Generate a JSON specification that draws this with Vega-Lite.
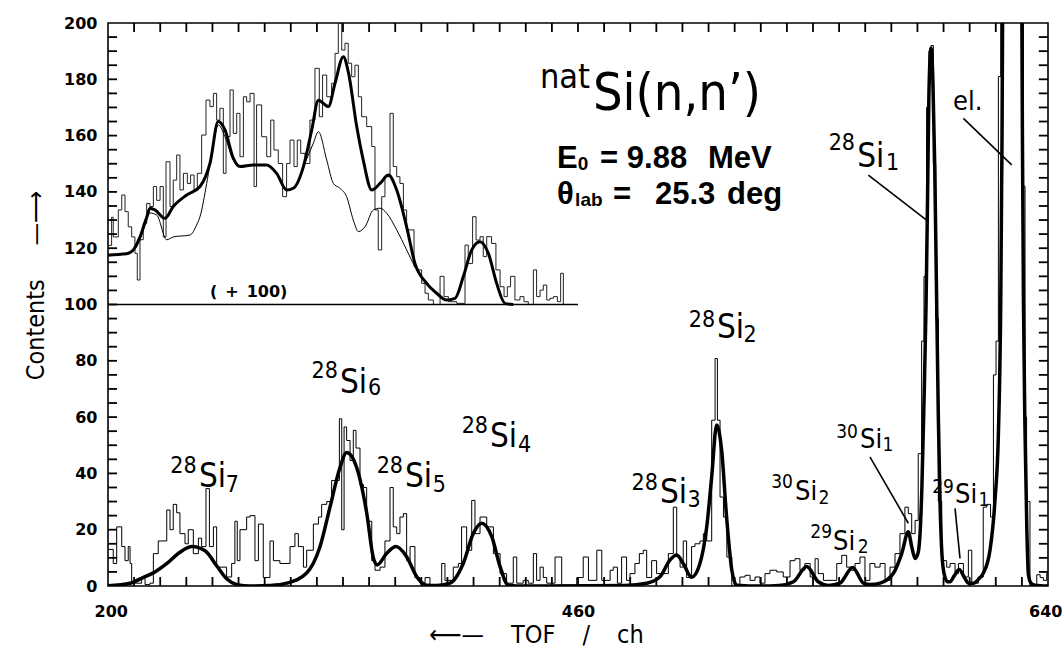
{
 "$schema": "https://vega.github.io/schema/vega-lite/v6.json",
 "width": 940, "height": 563,
 "autosize": {"type": "none"},
 "padding": {"left": 108, "top": 23, "right": 14, "bottom": 62},
 "background": "white",
 "config": {
  "view": {"stroke": "black", "strokeWidth": 1.6},
  "axis": {"grid": false, "domain": false, "ticks": false, "labelColor": "black", "labelFont": "DejaVu Sans", "labelFontWeight": "bold", "labelFontSize": 16, "titleColor": "black", "titleFont": "DejaVu Sans Condensed, DejaVu Sans", "titleFontWeight": "normal", "titleFontSize": 26}
 },
 "datasets": {
  "frameticks": [
   {"ch":214.44,"ch2":214.44,"n":0,"n2":3.2},{"ch":228.89,"ch2":228.89,"n":0,"n2":3.2},{"ch":243.33,"ch2":243.33,"n":0,"n2":3.2},{"ch":257.78,"ch2":257.78,"n":0,"n2":3.2},{"ch":272.22,"ch2":272.22,"n":0,"n2":3.2},{"ch":286.67,"ch2":286.67,"n":0,"n2":3.2},{"ch":301.11,"ch2":301.11,"n":0,"n2":3.2},{"ch":315.56,"ch2":315.56,"n":0,"n2":3.2},{"ch":330,"ch2":330,"n":0,"n2":3.2},{"ch":344.44,"ch2":344.44,"n":0,"n2":3.2},{"ch":358.89,"ch2":358.89,"n":0,"n2":3.2},{"ch":373.33,"ch2":373.33,"n":0,"n2":3.2},{"ch":387.78,"ch2":387.78,"n":0,"n2":3.2},{"ch":402.22,"ch2":402.22,"n":0,"n2":3.2},{"ch":416.67,"ch2":416.67,"n":0,"n2":3.2},{"ch":431.11,"ch2":431.11,"n":0,"n2":3.2},{"ch":445.56,"ch2":445.56,"n":0,"n2":3.2},{"ch":460,"ch2":460,"n":0,"n2":3.2},{"ch":470,"ch2":470,"n":0,"n2":3.2},{"ch":480,"ch2":480,"n":0,"n2":3.2},{"ch":490,"ch2":490,"n":0,"n2":3.2},{"ch":500,"ch2":500,"n":0,"n2":3.2},{"ch":510,"ch2":510,"n":0,"n2":3.2},{"ch":520,"ch2":520,"n":0,"n2":3.2},{"ch":530,"ch2":530,"n":0,"n2":3.2},{"ch":540,"ch2":540,"n":0,"n2":3.2},{"ch":550,"ch2":550,"n":0,"n2":3.2},{"ch":560,"ch2":560,"n":0,"n2":3.2},{"ch":570,"ch2":570,"n":0,"n2":3.2},{"ch":580,"ch2":580,"n":0,"n2":3.2},{"ch":590,"ch2":590,"n":0,"n2":3.2},{"ch":600,"ch2":600,"n":0,"n2":3.2},{"ch":610,"ch2":610,"n":0,"n2":3.2},{"ch":620,"ch2":620,"n":0,"n2":3.2},{"ch":630,"ch2":630,"n":0,"n2":3.2},
   {"ch":214.44,"ch2":214.44,"n":196.8,"n2":200},{"ch":228.89,"ch2":228.89,"n":196.8,"n2":200},{"ch":243.33,"ch2":243.33,"n":196.8,"n2":200},{"ch":257.78,"ch2":257.78,"n":196.8,"n2":200},{"ch":272.22,"ch2":272.22,"n":196.8,"n2":200},{"ch":286.67,"ch2":286.67,"n":196.8,"n2":200},{"ch":301.11,"ch2":301.11,"n":196.8,"n2":200},{"ch":315.56,"ch2":315.56,"n":196.8,"n2":200},{"ch":330,"ch2":330,"n":196.8,"n2":200},{"ch":344.44,"ch2":344.44,"n":196.8,"n2":200},{"ch":358.89,"ch2":358.89,"n":196.8,"n2":200},{"ch":373.33,"ch2":373.33,"n":196.8,"n2":200},{"ch":387.78,"ch2":387.78,"n":196.8,"n2":200},{"ch":402.22,"ch2":402.22,"n":196.8,"n2":200},{"ch":416.67,"ch2":416.67,"n":196.8,"n2":200},{"ch":431.11,"ch2":431.11,"n":196.8,"n2":200},{"ch":445.56,"ch2":445.56,"n":196.8,"n2":200},{"ch":460,"ch2":460,"n":196.8,"n2":200},{"ch":470,"ch2":470,"n":196.8,"n2":200},{"ch":480,"ch2":480,"n":196.8,"n2":200},{"ch":490,"ch2":490,"n":196.8,"n2":200},{"ch":500,"ch2":500,"n":196.8,"n2":200},{"ch":510,"ch2":510,"n":196.8,"n2":200},{"ch":520,"ch2":520,"n":196.8,"n2":200},{"ch":530,"ch2":530,"n":196.8,"n2":200},{"ch":540,"ch2":540,"n":196.8,"n2":200},{"ch":550,"ch2":550,"n":196.8,"n2":200},{"ch":560,"ch2":560,"n":196.8,"n2":200},{"ch":570,"ch2":570,"n":196.8,"n2":200},{"ch":580,"ch2":580,"n":196.8,"n2":200},{"ch":590,"ch2":590,"n":196.8,"n2":200},{"ch":600,"ch2":600,"n":196.8,"n2":200},{"ch":610,"ch2":610,"n":196.8,"n2":200},{"ch":620,"ch2":620,"n":196.8,"n2":200},{"ch":630,"ch2":630,"n":196.8,"n2":200},
   {"ch":200,"ch2":205,"n":5,"n2":5},{"ch":200,"ch2":205,"n":10,"n2":10},{"ch":200,"ch2":205,"n":15,"n2":15},{"ch":200,"ch2":205,"n":20,"n2":20},{"ch":200,"ch2":205,"n":25,"n2":25},{"ch":200,"ch2":205,"n":30,"n2":30},{"ch":200,"ch2":205,"n":35,"n2":35},{"ch":200,"ch2":205,"n":40,"n2":40},{"ch":200,"ch2":205,"n":45,"n2":45},{"ch":200,"ch2":205,"n":50,"n2":50},{"ch":200,"ch2":205,"n":55,"n2":55},{"ch":200,"ch2":205,"n":60,"n2":60},{"ch":200,"ch2":205,"n":65,"n2":65},{"ch":200,"ch2":205,"n":70,"n2":70},{"ch":200,"ch2":205,"n":75,"n2":75},{"ch":200,"ch2":205,"n":80,"n2":80},{"ch":200,"ch2":205,"n":85,"n2":85},{"ch":200,"ch2":205,"n":90,"n2":90},{"ch":200,"ch2":205,"n":95,"n2":95},{"ch":200,"ch2":205,"n":100,"n2":100},{"ch":200,"ch2":205,"n":105,"n2":105},{"ch":200,"ch2":205,"n":110,"n2":110},{"ch":200,"ch2":205,"n":115,"n2":115},{"ch":200,"ch2":205,"n":120,"n2":120},{"ch":200,"ch2":205,"n":125,"n2":125},{"ch":200,"ch2":205,"n":130,"n2":130},{"ch":200,"ch2":205,"n":135,"n2":135},{"ch":200,"ch2":205,"n":140,"n2":140},{"ch":200,"ch2":205,"n":145,"n2":145},{"ch":200,"ch2":205,"n":150,"n2":150},{"ch":200,"ch2":205,"n":155,"n2":155},{"ch":200,"ch2":205,"n":160,"n2":160},{"ch":200,"ch2":205,"n":165,"n2":165},{"ch":200,"ch2":205,"n":170,"n2":170},{"ch":200,"ch2":205,"n":175,"n2":175},{"ch":200,"ch2":205,"n":180,"n2":180},{"ch":200,"ch2":205,"n":185,"n2":185},{"ch":200,"ch2":205,"n":190,"n2":190},{"ch":200,"ch2":205,"n":195,"n2":195},
   {"ch":636.5,"ch2":640,"n":5,"n2":5},{"ch":636.5,"ch2":640,"n":10,"n2":10},{"ch":636.5,"ch2":640,"n":15,"n2":15},{"ch":636.5,"ch2":640,"n":20,"n2":20},{"ch":636.5,"ch2":640,"n":25,"n2":25},{"ch":636.5,"ch2":640,"n":30,"n2":30},{"ch":636.5,"ch2":640,"n":35,"n2":35},{"ch":636.5,"ch2":640,"n":40,"n2":40},{"ch":636.5,"ch2":640,"n":45,"n2":45},{"ch":636.5,"ch2":640,"n":50,"n2":50},{"ch":636.5,"ch2":640,"n":55,"n2":55},{"ch":636.5,"ch2":640,"n":60,"n2":60},{"ch":636.5,"ch2":640,"n":65,"n2":65},{"ch":636.5,"ch2":640,"n":70,"n2":70},{"ch":636.5,"ch2":640,"n":75,"n2":75},{"ch":636.5,"ch2":640,"n":80,"n2":80},{"ch":636.5,"ch2":640,"n":85,"n2":85},{"ch":636.5,"ch2":640,"n":90,"n2":90},{"ch":636.5,"ch2":640,"n":95,"n2":95},{"ch":636.5,"ch2":640,"n":100,"n2":100},{"ch":636.5,"ch2":640,"n":105,"n2":105},{"ch":636.5,"ch2":640,"n":110,"n2":110},{"ch":636.5,"ch2":640,"n":115,"n2":115},{"ch":636.5,"ch2":640,"n":120,"n2":120},{"ch":636.5,"ch2":640,"n":125,"n2":125},{"ch":636.5,"ch2":640,"n":130,"n2":130},{"ch":636.5,"ch2":640,"n":135,"n2":135},{"ch":636.5,"ch2":640,"n":140,"n2":140},{"ch":636.5,"ch2":640,"n":145,"n2":145},{"ch":636.5,"ch2":640,"n":150,"n2":150},{"ch":636.5,"ch2":640,"n":155,"n2":155},{"ch":636.5,"ch2":640,"n":160,"n2":160},{"ch":636.5,"ch2":640,"n":165,"n2":165},{"ch":636.5,"ch2":640,"n":170,"n2":170},{"ch":636.5,"ch2":640,"n":175,"n2":175},{"ch":636.5,"ch2":640,"n":180,"n2":180},{"ch":636.5,"ch2":640,"n":185,"n2":185},{"ch":636.5,"ch2":640,"n":190,"n2":190},{"ch":636.5,"ch2":640,"n":195,"n2":195}
  ],
  "hist": [
   {"ch":200,"n":13},{"ch":202.9,"n":8},{"ch":204.8,"n":21},{"ch":207.6,"n":14},{"ch":209.4,"n":9},{"ch":211.2,"n":14},{"ch":212.2,"n":8},{"ch":213.1,"n":1},{"ch":218.6,"n":3},{"ch":220.5,"n":0.5},{"ch":223.2,"n":1},{"ch":225.1,"n":11.5},{"ch":227.8,"n":16},{"ch":232.5,"n":27},{"ch":234.3,"n":20},{"ch":236.1,"n":29},{"ch":238.0,"n":26},{"ch":239.8,"n":18.6},{"ch":242.6,"n":15},{"ch":244.4,"n":20},{"ch":247.2,"n":11.5},{"ch":250.0,"n":17},{"ch":251.8,"n":14},{"ch":254.2,"n":34.6},{"ch":256.1,"n":14},{"ch":258.3,"n":21},{"ch":260.1,"n":6.7},{"ch":265.6,"n":3.2},{"ch":268.4,"n":8},{"ch":270.2,"n":23},{"ch":271.5,"n":9},{"ch":273.0,"n":20},{"ch":276.7,"n":24.5},{"ch":278.6,"n":25},{"ch":281.3,"n":9},{"ch":283.2,"n":22},{"ch":285.9,"n":3},{"ch":289.6,"n":16},{"ch":291.5,"n":9},{"ch":295.1,"n":8},{"ch":300.7,"n":14},{"ch":303.4,"n":18.6},{"ch":305.3,"n":14},{"ch":308.1,"n":6.7},{"ch":309.9,"n":12.7},{"ch":313.6,"n":22},{"ch":316.4,"n":24.5},{"ch":318.2,"n":29},{"ch":321.0,"n":30},{"ch":323.7,"n":37.5},{"ch":328.0,"n":59.4},{"ch":329.3,"n":20},{"ch":330.6,"n":56.5},{"ch":332.0,"n":51.7},{"ch":333.9,"n":44.6},{"ch":335.7,"n":55.3},{"ch":337.2,"n":49},{"ch":339.4,"n":36},{"ch":341.3,"n":35},{"ch":343.1,"n":23},{"ch":345.9,"n":9},{"ch":347.7,"n":5.6},{"ch":350.5,"n":6.7},{"ch":353.2,"n":16},{"ch":356.0,"n":35},{"ch":357.8,"n":21},{"ch":359.7,"n":18.6},{"ch":361.5,"n":24.5},{"ch":363.4,"n":25.7},{"ch":365.2,"n":9},{"ch":367.1,"n":14},{"ch":369.8,"n":3},{"ch":372.6,"n":1},{"ch":375.4,"n":3},{"ch":378.1,"n":0},{"ch":384.6,"n":8},{"ch":386.4,"n":2},{"ch":391.0,"n":6.7},{"ch":393.8,"n":8},{"ch":395.6,"n":21},{"ch":398.4,"n":12.7},{"ch":401.2,"n":30.4},{"ch":403.0,"n":18.6},{"ch":405.8,"n":24.5},{"ch":409.5,"n":21},{"ch":413.2,"n":11.5},{"ch":416.9,"n":4.4},{"ch":420.5,"n":1},{"ch":424.2,"n":10.3},{"ch":426.1,"n":1},{"ch":429.7,"n":2},{"ch":432.5,"n":1},{"ch":435.3,"n":11.5},{"ch":437.1,"n":2},{"ch":439.0,"n":6.7},{"ch":440.8,"n":3},{"ch":442.7,"n":1},{"ch":447.3,"n":10.3},{"ch":451.0,"n":0.2},{"ch":459.3,"n":3},{"ch":462.0,"n":10.3},{"ch":464.0,"n":2},{"ch":467.2,"n":12.7},{"ch":469.1,"n":2},{"ch":472.3,"n":5.6},{"ch":473.5,"n":6.7},{"ch":475.1,"n":1},{"ch":476.7,"n":10.3},{"ch":478.6,"n":2},{"ch":479.9,"n":4.4},{"ch":481.8,"n":8},{"ch":483.5,"n":11.5},{"ch":485.0,"n":12.7},{"ch":486.3,"n":3},{"ch":488.2,"n":9},{"ch":490.1,"n":4.4},{"ch":494.6,"n":11.5},{"ch":496.5,"n":28},{"ch":497.8,"n":10.3},{"ch":499.1,"n":6.7},{"ch":500.3,"n":16},{"ch":501.6,"n":3},{"ch":503.5,"n":14},{"ch":504.8,"n":15},{"ch":506.7,"n":16},{"ch":508.0,"n":18.6},{"ch":509.3,"n":16},{"ch":511.2,"n":58.9},{"ch":512.5,"n":80.8},{"ch":513.4,"n":58.9},{"ch":514.4,"n":31.6},{"ch":515.7,"n":24.5},{"ch":517.0,"n":10.3},{"ch":518.9,"n":0},{"ch":522.0,"n":3.2},{"ch":524.0,"n":3.8},{"ch":525.9,"n":2},{"ch":527.8,"n":3.2},{"ch":529.7,"n":1},{"ch":531.6,"n":4.4},{"ch":533.5,"n":5.6},{"ch":536.1,"n":5},{"ch":538.6,"n":3.2},{"ch":541.2,"n":9},{"ch":543.1,"n":9.7},{"ch":545.0,"n":5.6},{"ch":546.9,"n":8},{"ch":548.9,"n":3.2},{"ch":550.8,"n":9.7},{"ch":552.0,"n":4.4},{"ch":554.0,"n":2},{"ch":559.1,"n":8},{"ch":561.0,"n":10.9},{"ch":562.9,"n":6.7},{"ch":564.8,"n":5.6},{"ch":566.1,"n":8},{"ch":568.0,"n":10.3},{"ch":569.9,"n":2},{"ch":571.8,"n":8},{"ch":573.7,"n":6.7},{"ch":575.7,"n":8},{"ch":577.6,"n":2},{"ch":579.5,"n":6.7},{"ch":581.4,"n":11.5},{"ch":583.3,"n":18.6},{"ch":585.2,"n":28},{"ch":586.5,"n":25.7},{"ch":587.8,"n":18.6},{"ch":589.1,"n":23.3},{"ch":590.3,"n":47},{"ch":591.6,"n":87},{"ch":592.5,"n":110},{"ch":593.5,"n":170},{"ch":594.4,"n":190},{"ch":595.2,"n":192},{"ch":596.1,"n":150},{"ch":597.0,"n":95},{"ch":598.0,"n":30},{"ch":599.3,"n":9},{"ch":601.2,"n":6.7},{"ch":602.5,"n":8},{"ch":604.4,"n":4.4},{"ch":605.7,"n":8},{"ch":607.6,"n":3.2},{"ch":609.5,"n":12.7},{"ch":610.8,"n":1},{"ch":613.3,"n":3.2},{"ch":615.2,"n":28},{"ch":616.5,"n":29},{"ch":618.0,"n":24.5},{"ch":619.1,"n":75},{"ch":620.1,"n":87},{"ch":621.0,"n":181},{"ch":621.9,"n":600},{"ch":623.5,"n":2000},{"ch":626.2,"n":2500},{"ch":628.5,"n":1200},{"ch":629.9,"n":300},{"ch":630.6,"n":142},{"ch":631.2,"n":60},{"ch":631.8,"n":30},{"ch":633.1,"n":0},{"ch":635.7,"n":4},{"ch":637.0,"n":3},{"ch":638.2,"n":2},{"ch":639.5,"n":4.4},{"ch":640,"n":4.4}
  ],
  "fit": [
   {"ch":200,"n":0.1},{"ch":212.2,"n":1},{"ch":219.4,"n":3},{"ch":226.0,"n":5},{"ch":232.6,"n":8},{"ch":239.8,"n":12},{"ch":246.5,"n":14},{"ch":253.7,"n":12.5},{"ch":260.3,"n":7},{"ch":265.8,"n":2.5},{"ch":271.4,"n":0.5},{"ch":278.6,"n":0},{"ch":290,"n":0.2},{"ch":298.9,"n":1},{"ch":309.9,"n":4.6},{"ch":317.3,"n":14},{"ch":322.8,"n":28},{"ch":328.3,"n":42},{"ch":332.0,"n":47.4},{"ch":337.6,"n":42},{"ch":343.1,"n":26},{"ch":346.8,"n":10},{"ch":348.8,"n":7.5},{"ch":354.2,"n":11.6},{"ch":359.3,"n":14},{"ch":365.2,"n":10.4},{"ch":370.8,"n":3.3},{"ch":376.3,"n":0.3},{"ch":382,"n":0.2},{"ch":389.2,"n":1},{"ch":396.5,"n":8},{"ch":402.1,"n":18.7},{"ch":406.7,"n":22.3},{"ch":412.3,"n":17.5},{"ch":416.9,"n":6.9},{"ch":421.4,"n":0.3},{"ch":430,"n":0},{"ch":478,"n":0.2},{"ch":486.3,"n":1},{"ch":491.4,"n":3.3},{"ch":495.2,"n":9.2},{"ch":497.8,"n":11},{"ch":500.3,"n":8},{"ch":503.5,"n":3.1},{"ch":506.7,"n":8},{"ch":509.3,"n":21},{"ch":511.2,"n":38.8},{"ch":513.1,"n":57.2},{"ch":515.0,"n":48.3},{"ch":516.9,"n":24.6},{"ch":518.9,"n":5.7},{"ch":520.8,"n":0.3},{"ch":530,"n":0},{"ch":537,"n":0.2},{"ch":542.5,"n":1.5},{"ch":547.6,"n":6.9},{"ch":552.0,"n":1.5},{"ch":556,"n":0.2},{"ch":560.3,"n":1},{"ch":565.2,"n":6.6},{"ch":569.3,"n":1},{"ch":572,"n":0.5},{"ch":575.7,"n":1},{"ch":580.8,"n":4.5},{"ch":584.0,"n":11.6},{"ch":586.5,"n":19.3},{"ch":587.8,"n":14},{"ch":589.1,"n":9.8},{"ch":590.3,"n":12},{"ch":591.0,"n":18.7},{"ch":591.7,"n":35},{"ch":592.5,"n":65},{"ch":593.3,"n":100},{"ch":593.9,"n":140},{"ch":594.4,"n":175},{"ch":595.2,"n":191},{"ch":595.9,"n":180},{"ch":596.6,"n":150},{"ch":597.3,"n":105},{"ch":598.0,"n":60},{"ch":598.7,"n":28},{"ch":599.4,"n":11},{"ch":600.3,"n":4},{"ch":601.5,"n":1.5},{"ch":602.5,"n":1.5},{"ch":604,"n":3.5},{"ch":606.0,"n":5.9},{"ch":608,"n":3},{"ch":609.5,"n":1},{"ch":611.4,"n":1},{"ch":613.5,"n":2.5},{"ch":615.2,"n":4.5},{"ch":617.8,"n":12.8},{"ch":619.7,"n":30.5},{"ch":621.0,"n":54},{"ch":621.9,"n":101},{"ch":622.4,"n":160},{"ch":622.8,"n":240},{"ch":624,"n":800},{"ch":626.2,"n":2500},{"ch":628.5,"n":800},{"ch":629.8,"n":240},{"ch":630.2,"n":160},{"ch":630.6,"n":101},{"ch":631.2,"n":55},{"ch":631.9,"n":20},{"ch":632.5,"n":4},{"ch":633.5,"n":1},{"ch":635,"n":0.3},{"ch":640,"n":0}
  ],
  "ihist": [
   {"ch":200,"n":121},{"ch":202.0,"n":131},{"ch":202.9,"n":124},{"ch":205.7,"n":133.6},{"ch":207.6,"n":138.9},{"ch":209.4,"n":133},{"ch":211.2,"n":127.6},{"ch":213.1,"n":124},{"ch":214.9,"n":118.2},{"ch":216.2,"n":108.7},{"ch":217.7,"n":123},{"ch":219.5,"n":128.8},{"ch":221.4,"n":135.9},{"ch":223.2,"n":134.8},{"ch":225.1,"n":141.9},{"ch":226.9,"n":137},{"ch":228.8,"n":141.9},{"ch":230.6,"n":124},{"ch":232.1,"n":150.7},{"ch":234.3,"n":134.8},{"ch":236.1,"n":144.2},{"ch":238.0,"n":153.1},{"ch":239.8,"n":140.7},{"ch":241.7,"n":146.6},{"ch":243.9,"n":143},{"ch":245.7,"n":146},{"ch":247.6,"n":140.7},{"ch":249.4,"n":146.6},{"ch":251.8,"n":160.2},{"ch":254.2,"n":172.6},{"ch":256.4,"n":170.3},{"ch":258.3,"n":175},{"ch":260.1,"n":165.5},{"ch":261.9,"n":169.7},{"ch":263.8,"n":146.6},{"ch":265.3,"n":159.6},{"ch":267.5,"n":176.2},{"ch":269.3,"n":160.8},{"ch":271.2,"n":167.9},{"ch":273.0,"n":152.5},{"ch":274.9,"n":173.8},{"ch":276.7,"n":172},{"ch":278.6,"n":175},{"ch":280.8,"n":141.9},{"ch":282.2,"n":170.9},{"ch":285.0,"n":159.6},{"ch":287.8,"n":152.5},{"ch":290.0,"n":165.5},{"ch":291.8,"n":154.9},{"ch":294.2,"n":150.1},{"ch":296.6,"n":138.3},{"ch":298.8,"n":150.1},{"ch":300.7,"n":158.4},{"ch":302.9,"n":149},{"ch":304.7,"n":158.4},{"ch":306.6,"n":153.7},{"ch":309.0,"n":150.1},{"ch":311.7,"n":165.5},{"ch":314.5,"n":183.9},{"ch":316.9,"n":166.7},{"ch":318.7,"n":181.5},{"ch":321.0,"n":173.8},{"ch":323.7,"n":178.6},{"ch":325.6,"n":189.2},{"ch":327.4,"n":199.9},{"ch":329.3,"n":190.4},{"ch":331.1,"n":192.8},{"ch":332.9,"n":185.7},{"ch":334.8,"n":180.9},{"ch":336.6,"n":185},{"ch":338.5,"n":173.8},{"ch":340.3,"n":166.7},{"ch":343.1,"n":163.2},{"ch":345.9,"n":156.1},{"ch":347.7,"n":133.6},{"ch":349.5,"n":119.4},{"ch":351.4,"n":138.3},{"ch":353.2,"n":145.4},{"ch":356.0,"n":167.9},{"ch":357.8,"n":149},{"ch":359.7,"n":145.4},{"ch":361.5,"n":143},{"ch":363.4,"n":133.6},{"ch":365.2,"n":126.5},{"ch":369.3,"n":113.4},{"ch":370.7,"n":112.3},{"ch":373.5,"n":107.5},{"ch":375.4,"n":104},{"ch":377.2,"n":101.6},{"ch":380.0,"n":100},{"ch":383.7,"n":110},{"ch":385.9,"n":102.8},{"ch":388.3,"n":101},{"ch":392.9,"n":100.4},{"ch":397.5,"n":121.1},{"ch":399.3,"n":114.6},{"ch":401.7,"n":131.2},{"ch":403.6,"n":122.9},{"ch":405.8,"n":124.1},{"ch":407.6,"n":117},{"ch":409.5,"n":124.1},{"ch":412.2,"n":121.7},{"ch":414.6,"n":112.3},{"ch":416.9,"n":106.3},{"ch":419.1,"n":102.8},{"ch":420.9,"n":106.3},{"ch":422.7,"n":110},{"ch":425.1,"n":101.6},{"ch":427.9,"n":102.8},{"ch":430.1,"n":101},{"ch":432.5,"n":100},{"ch":435.3,"n":112.3},{"ch":437.1,"n":102.8},{"ch":439.0,"n":105.1},{"ch":440.8,"n":106.9},{"ch":442.7,"n":101.6},{"ch":444.5,"n":102.2},{"ch":446.4,"n":102.8},{"ch":448.6,"n":101},{"ch":450.4,"n":111.1},{"ch":451.9,"n":100},{"ch":459.3,"n":100}
  ],
  "ifit": [
   {"ch":200,"n":117.5},{"ch":201.1,"n":117.6},{"ch":210.3,"n":118},{"ch":214.0,"n":119.4},{"ch":217.7,"n":124},{"ch":221.4,"n":131},{"ch":223.2,"n":134.2},{"ch":226.0,"n":133.6},{"ch":231.5,"n":130.6},{"ch":236.1,"n":134.8},{"ch":243.5,"n":138.9},{"ch":250.9,"n":141.9},{"ch":256.4,"n":150.1},{"ch":261.0,"n":165},{"ch":264.7,"n":162},{"ch":269.3,"n":152},{"ch":273.0,"n":149},{"ch":280.4,"n":149.6},{"ch":287.8,"n":149.6},{"ch":293.3,"n":146.6},{"ch":298.8,"n":140.7},{"ch":302.5,"n":141.3},{"ch":308.1,"n":149},{"ch":312.7,"n":162},{"ch":316.4,"n":172.6},{"ch":321.9,"n":170.3},{"ch":325.6,"n":178.6},{"ch":330.2,"n":188},{"ch":332.9,"n":182.7},{"ch":337.6,"n":163.2},{"ch":341.2,"n":151.3},{"ch":345.9,"n":140.7},{"ch":350.5,"n":143},{"ch":355.1,"n":146},{"ch":359.7,"n":140.7},{"ch":365.2,"n":127.6},{"ch":369.8,"n":114.6},{"ch":376.3,"n":107.5},{"ch":381.8,"n":104},{"ch":387.3,"n":101.6},{"ch":392.0,"n":102.2},{"ch":396.6,"n":110},{"ch":401.2,"n":119.4},{"ch":405.8,"n":122.3},{"ch":410.4,"n":118.2},{"ch":415.0,"n":107.5},{"ch":419.6,"n":100.4},{"ch":424.2,"n":100}
  ],
  "ifit2": [
   {"ch":200,"n":117.5},{"ch":201.1,"n":117.6},{"ch":210.3,"n":118},{"ch":214.0,"n":119},{"ch":217.7,"n":123},{"ch":221.4,"n":130},{"ch":223.2,"n":132.5},{"ch":226.9,"n":131.8},{"ch":232.5,"n":123},{"ch":236.1,"n":124},{"ch":245.4,"n":124.7},{"ch":249.0,"n":128.2},{"ch":250.9,"n":131.2},{"ch":254.6,"n":143},{"ch":258.3,"n":157.3},{"ch":261.0,"n":163.8},{"ch":264.7,"n":159.6},{"ch":269.3,"n":151.3},{"ch":273.0,"n":149},{"ch":280.4,"n":149.6},{"ch":287.8,"n":149.6},{"ch":293.3,"n":146.6},{"ch":298.8,"n":140.7},{"ch":302.5,"n":141.3},{"ch":308.1,"n":149},{"ch":313.6,"n":157.3},{"ch":316.4,"n":161.4},{"ch":321.0,"n":151.3},{"ch":324.7,"n":143},{"ch":328.3,"n":141.3},{"ch":332.0,"n":138.3},{"ch":335.7,"n":130},{"ch":338.5,"n":125.9},{"ch":342.2,"n":127.6},{"ch":346.8,"n":133.6},{"ch":350.5,"n":134.2},{"ch":354.2,"n":132.4},{"ch":359.7,"n":126.5},{"ch":365.2,"n":119.4},{"ch":369.8,"n":113.4},{"ch":376.3,"n":107.5},{"ch":381.8,"n":104},{"ch":387.3,"n":101.6},{"ch":392.0,"n":102.2},{"ch":396.6,"n":110},{"ch":401.2,"n":119.4},{"ch":405.8,"n":122.3},{"ch":410.4,"n":118.2},{"ch":415.0,"n":107.5},{"ch":419.6,"n":100.4},{"ch":424.2,"n":100}
  ],
  "leaders": [
   {"ch":571.2,"n":146.0,"ch2":593.5,"n2":130.0},
   {"ch":607.6,"n":166.1,"ch2":626.1,"n2":149.6},
   {"ch":571.8,"n":45.9,"ch2":586.5,"n2":22.3},
   {"ch":604.4,"n":27.6,"ch2":606.3,"n2":9.8},
   {"ch":200,"n":100,"ch2":460,"n2":100}
  ],
  "labels": [
   {"text":"Si","ch":250.3,"n":35.2,"kind":"main"},
   {"text":"Si","ch":328.3,"n":68.6,"kind":"main"},
   {"text":"Si","ch":364.3,"n":35.2,"kind":"main"},
   {"text":"Si","ch":411.3,"n":49.4,"kind":"main"},
   {"text":"Si","ch":491.4,"n":29.5,"kind":"main"},
   {"text":"Si","ch":513.2,"n":88.1,"kind":"main"},
   {"text":"Si","ch":566.9,"n":148.8,"kind":"main"},
   {"text":"28","ch":249.0,"n":40.1,"kind":"sup"},
   {"text":"28","ch":327.2,"n":73.9,"kind":"sup"},
   {"text":"28","ch":363.2,"n":40.1,"kind":"sup"},
   {"text":"28","ch":410.2,"n":54.4,"kind":"sup"},
   {"text":"28","ch":490.6,"n":34.1,"kind":"sup"},
   {"text":"28","ch":512.5,"n":92.0,"kind":"sup"},
   {"text":"28","ch":566.1,"n":154.9,"kind":"sup"},
   {"text":"7","ch":265.2,"n":33.4,"kind":"sub"},
   {"text":"6","ch":343.8,"n":67.9,"kind":"sub"},
   {"text":"5","ch":379.7,"n":33.4,"kind":"sub"},
   {"text":"4","ch":426.8,"n":47.6,"kind":"sub"},
   {"text":"3","ch":501.9,"n":28.1,"kind":"sub"},
   {"text":"2","ch":523.4,"n":86.7,"kind":"sub"},
   {"text":"1","ch":578.0,"n":147.8,"kind":"sub"},
   {"text":"Si","ch":543.1,"n":30.6,"kind":"main2"},
   {"text":"Si","ch":557.7,"n":12.8,"kind":"main2"},
   {"text":"Si","ch":568.0,"n":49.0,"kind":"main2"},
   {"text":"Si","ch":604.4,"n":29.5,"kind":"main2"},
   {"text":"el.","ch":603.6,"n":169.1,"kind":"main2"},
   {"text":"30","ch":542.3,"n":34.8,"kind":"sup2"},
   {"text":"29","ch":557.3,"n":17.1,"kind":"sup2"},
   {"text":"30","ch":567.2,"n":52.6,"kind":"sup2"},
   {"text":"29","ch":604.0,"n":33.0,"kind":"sup2"},
   {"text":"2","ch":552.1,"n":29.1,"kind":"sub2"},
   {"text":"2","ch":567.1,"n":11.7,"kind":"sub2"},
   {"text":"1","ch":576.6,"n":48.0,"kind":"sub2"},
   {"text":"1","ch":613.4,"n":28.4,"kind":"sub2"},
   {"text":"Si(n,n’)","ch":465.7,"n":169.1,"kind":"big"},
   {"text":"nat","ch":464.6,"n":176.9,"kind":"bigsup"},
   {"text":"E","ch":448.4,"n":148.5,"kind":"param"},
   {"text":"=","ch":468.4,"n":148.5,"kind":"param"},
   {"text":"9.88","ch":478.7,"n":148.5,"kind":"param"},
   {"text":"MeV","ch":509.8,"n":148.5,"kind":"param"},
   {"text":"θ","ch":448.4,"n":135.7,"kind":"param"},
   {"text":"=","ch":473.4,"n":135.7,"kind":"param"},
   {"text":"25.3","ch":489.5,"n":135.7,"kind":"param"},
   {"text":"deg","ch":517.1,"n":135.7,"kind":"param"},
   {"text":"0","ch":459.9,"n":147.8,"kind":"psub"},
   {"text":"lab","ch":458.4,"n":135.0,"kind":"psub"},
   {"text":"(\u2002+\u2002100)","ch":256.4,"n":102.7,"kind":"note"}
  ]
 },
 "encoding": {
  "x": {"field": "ch", "type": "quantitative", "scale": {"domain": [200, 460, 640], "range": [0, 470, 940], "nice": false, "zero": false}, "axis": null},
  "y": {"field": "n", "type": "quantitative", "scale": {"domain": [0, 200], "nice": false, "zero": false}, "axis": null}
 },
 "layer": [
  {
   "data": {"name": "hist"},
   "mark": {"type": "line", "interpolate": "step-after", "stroke": "black", "strokeWidth": 1, "clip": true},
   "encoding": {
    "x": {"field": "ch", "type": "quantitative", "scale": {"domain": [200, 460, 640], "range": [0, 470, 940], "nice": false, "zero": false},
     "axis": {"orient": "bottom", "values": [200, 460, 640],
      "labelPadding": 17, "labelFlush": true, "labelFlushOffset": 14, "labelOverlap": false,
      "title": "⟵—\u2003\u2009TOF\u2003\u2009/\u2003\u2009ch", "titleX": 428, "titleY": 48, "titleAlign": "center", "titleBaseline": "middle", "titleFontSize": 25}},
    "y": {"field": "n", "type": "quantitative", "scale": {"domain": [0, 200], "nice": false, "zero": false},
     "axis": {"orient": "left", "values": [0,20,40,60,80,100,120,140,160,180,200],
      "labelPadding": 11, "labelOverlap": false,
      "title": "Contents\u2003\u2002—⟶", "titleX": -73, "titleY": 262, "titleAlign": "center", "titleBaseline": "middle", "titleAngle": 270, "titleFontSize": 25}}
   }
  },
  {
   "data": {"name": "fit"},
   "mark": {"type": "line", "interpolate": "monotone", "stroke": "black", "strokeWidth": 3.5, "clip": true},
   "encoding": {}
  },
  {
   "data": {"name": "ihist"},
   "mark": {"type": "line", "interpolate": "step-after", "stroke": "#222", "strokeWidth": 1, "clip": true},
   "encoding": {}
  },
  {
   "data": {"name": "ifit2"},
   "mark": {"type": "line", "interpolate": "monotone", "stroke": "black", "strokeWidth": 1, "clip": true},
   "encoding": {}
  },
  {
   "data": {"name": "ifit"},
   "mark": {"type": "line", "interpolate": "monotone", "stroke": "black", "strokeWidth": 3, "clip": true},
   "encoding": {}
  },
  {
   "data": {"name": "leaders"},
   "mark": {"type": "rule", "stroke": "black", "strokeWidth": 1.6},
   "encoding": {"x2": {"field": "ch2"}, "y2": {"field": "n2"}}
  },
  {
   "data": {"name": "frameticks"},
   "mark": {"type": "rule", "stroke": "black", "strokeWidth": 1.8},
   "encoding": {"x2": {"field": "ch2"}, "y2": {"field": "n2"}}
  },
  {
   "data": {"name": "labels"}, "transform": [{"filter": "datum.kind == 'main'"}],
   "mark": {"type": "text", "font": "DejaVu Sans Condensed, DejaVu Sans", "fontSize": 33, "align": "left", "baseline": "alphabetic", "color": "black"},
   "encoding": {"text": {"field": "text"}}
  },
  {
   "data": {"name": "labels"}, "transform": [{"filter": "datum.kind == 'sup'"}],
   "mark": {"type": "text", "font": "DejaVu Sans Condensed, DejaVu Sans", "fontSize": 23, "align": "right", "baseline": "alphabetic", "color": "black"},
   "encoding": {"text": {"field": "text"}}
  },
  {
   "data": {"name": "labels"}, "transform": [{"filter": "datum.kind == 'sub'"}],
   "mark": {"type": "text", "font": "DejaVu Sans Condensed, DejaVu Sans", "fontSize": 23, "align": "left", "baseline": "alphabetic", "color": "black"},
   "encoding": {"text": {"field": "text"}}
  },
  {
   "data": {"name": "labels"}, "transform": [{"filter": "datum.kind == 'main2'"}],
   "mark": {"type": "text", "font": "DejaVu Sans Condensed, DejaVu Sans", "fontSize": 27, "align": "left", "baseline": "alphabetic", "color": "black"},
   "encoding": {"text": {"field": "text"}}
  },
  {
   "data": {"name": "labels"}, "transform": [{"filter": "datum.kind == 'sup2'"}],
   "mark": {"type": "text", "font": "DejaVu Sans Condensed, DejaVu Sans", "fontSize": 19, "align": "right", "baseline": "alphabetic", "color": "black"},
   "encoding": {"text": {"field": "text"}}
  },
  {
   "data": {"name": "labels"}, "transform": [{"filter": "datum.kind == 'sub2'"}],
   "mark": {"type": "text", "font": "DejaVu Sans Condensed, DejaVu Sans", "fontSize": 19, "align": "left", "baseline": "alphabetic", "color": "black"},
   "encoding": {"text": {"field": "text"}}
  },
  {
   "data": {"name": "labels"}, "transform": [{"filter": "datum.kind == 'big'"}],
   "mark": {"type": "text", "font": "DejaVu Sans Condensed, DejaVu Sans", "fontSize": 52, "align": "left", "baseline": "alphabetic", "color": "black"},
   "encoding": {"text": {"field": "text"}}
  },
  {
   "data": {"name": "labels"}, "transform": [{"filter": "datum.kind == 'bigsup'"}],
   "mark": {"type": "text", "font": "DejaVu Sans Condensed, DejaVu Sans", "fontSize": 34, "align": "right", "baseline": "alphabetic", "color": "black"},
   "encoding": {"text": {"field": "text"}}
  },
  {
   "data": {"name": "labels"}, "transform": [{"filter": "datum.kind == 'param'"}],
   "mark": {"type": "text", "font": "Liberation Sans, DejaVu Sans", "fontWeight": "bold", "fontSize": 31, "align": "left", "baseline": "alphabetic", "color": "black"},
   "encoding": {"text": {"field": "text"}}
  },
  {
   "data": {"name": "labels"}, "transform": [{"filter": "datum.kind == 'psub'"}],
   "mark": {"type": "text", "font": "Liberation Sans, DejaVu Sans", "fontWeight": "bold", "fontSize": 19, "align": "left", "baseline": "alphabetic", "color": "black"},
   "encoding": {"text": {"field": "text"}}
  },
  {
   "data": {"name": "labels"}, "transform": [{"filter": "datum.kind == 'note'"}],
   "mark": {"type": "text", "font": "DejaVu Sans", "fontWeight": "bold", "fontSize": 16, "align": "left", "baseline": "alphabetic", "color": "black"},
   "encoding": {"text": {"field": "text"}}
  }
 ],
 "resolve": {"axis": {"x": "independent", "y": "independent"}}
}
